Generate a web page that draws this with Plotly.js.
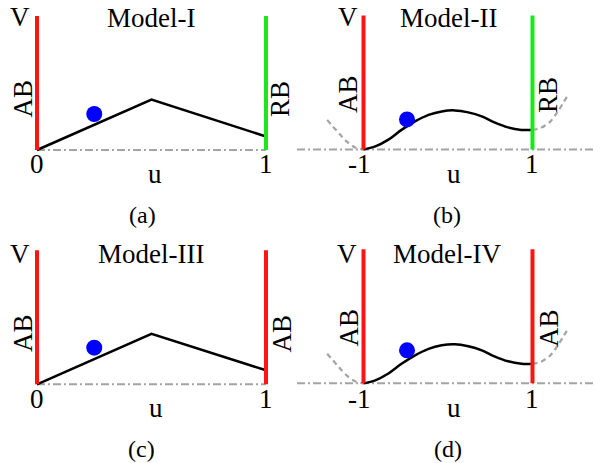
<!DOCTYPE html>
<html>
<head>
<meta charset="utf-8">
<script src="https://cdn.plot.ly/plotly-3.0.1.min.js"></script>
<style>html,body{margin:0;padding:0;background:#fff;}#chart{width:594px;height:463px;}</style>
</head>
<body>
<div id="chart"></div>
<script>
// ---------- data ----------
// Models I & III: piecewise-linear potential on [0,1]
const uLin = [0, 0.5, 1];
const vLinA = [0, 0.505, 0.135];
const vLinC = [0, 0.505, 0.14];
// Models II & IV: smooth potential on [-1,1]
const uSmooth = [-1, -0.86, -0.71, -0.55, -0.39, -0.23, -0.075, 0.08, 0.24, 0.40, 0.55, 0.71, 0.87, 1.0];
const vSmooth = [0, 0.03, 0.095, 0.195, 0.28, 0.345, 0.38, 0.39, 0.37, 0.33, 0.27, 0.22, 0.195, 0.195];
// grey dashed continuations beyond the walls (Models II & IV)
const uDashL = [-1.43, -1.31, -1.20, -1.10, -1.0];
const vDashL = [0.295, 0.18, 0.08, 0.02, 0];
const uDashR = [1.0, 1.09, 1.21, 1.30, 1.42];
const vDashR = [0.195, 0.212, 0.278, 0.38, 0.545];
// wall positions and height
const wallsLin = [0, 1];
const wallsSmooth = [-1, 1];
const wallTop = 1.34;
// particle (blue dot) positions
const dotU = [0.25, -0.485, 0.25, -0.485];
const dotV = [0.36, 0.30, 0.366, 0.33];
// labels
const titles = ['Model-I', 'Model-II', 'Model-III', 'Model-IV'];
const captions = ['(a)', '(b)', '(c)', '(d)'];
const leftWallLabels = ['AB', 'AB', 'AB', 'AB'];
const rightWallLabels = ['RB', 'RB', 'AB', 'AB'];
const tickLin = ['0', '1'];
const tickSmooth = ['-1', '1'];

// ---------- style ----------
const RED = '#ff1414', GREEN = '#1ee61e', GREY = '#a4a4a4', BLUE = '#0000ff';
const W = 594, H = 463;
const FONT = '"Liberation Serif", "Times New Roman", serif';
const px = x => x / W, py = y => 1 - y / H;

const panels = [
  {xa:'x',  ya:'y',  u:uLin,    v:vLinA,    walls:wallsLin,    wallCols:[RED, GREEN], ticks:tickLin,    smooth:false},
  {xa:'x2', ya:'y2', u:uSmooth, v:vSmooth,  walls:wallsSmooth, wallCols:[RED, GREEN], ticks:tickSmooth, smooth:true},
  {xa:'x3', ya:'y3', u:uLin,    v:vLinC,    walls:wallsLin,    wallCols:[RED, RED],   ticks:tickLin,    smooth:false},
  {xa:'x4', ya:'y4', u:uSmooth, v:vSmooth,  walls:wallsSmooth, wallCols:[RED, RED],   ticks:tickSmooth, smooth:true}
];
// text positions (pixels) per panel
const pos = [
  {V:[20,17.5],  T:[151,17.8],   L:[22.5,99],   R:[280,99],    tickY:163.8, tickShift:[0,0],  U:[155,174],   C:[142,215]},
  {V:[347.5,17.5],T:[448.7,17.8],L:[348,94],    R:[548,95],    tickY:163.8, tickShift:[-4,0], U:[453.7,174], C:[447,215]},
  {V:[20,254],   T:[151,254.5],  L:[22.5,333.5],R:[281,333.5], tickY:399,   tickShift:[0,0],  U:[155.8,408], C:[141,449]},
  {V:[347,254],  T:[447,254.5],  L:[348,327.5], R:[549,328],   tickY:399,   tickShift:[-4,0], U:[453.7,408], C:[448,449]}
];

const traces = [];
const shapes = [];
const annotations = [];
const txt = (text, x, y, size, extra) => Object.assign({
  text: text, x: px(x), y: py(y), xref: 'paper', yref: 'paper',
  xanchor: 'center', yanchor: 'middle', showarrow: false,
  font: {family: FONT, size: size, color: '#000'}
}, extra || {});

panels.forEach((p, i) => {
  const axes = {xaxis: p.xa, yaxis: p.ya};
  const dom = p.xa + ' domain';
  // baseline
  if (p.smooth) {
    shapes.push({type:'line', xref: dom, yref: p.ya, x0:0, x1:1, y0:0, y1:0,
      line:{color:GREY, width:2, dash:'8px,3px,2px,3px'}, layer:'below'});
    traces.push(Object.assign({x:uDashL, y:vDashL, mode:'lines', line:{color:GREY, width:2.2, dash:'5px,4px', shape:'spline'}, hoverinfo:'skip'}, axes));
    traces.push(Object.assign({x:uDashR, y:vDashR, mode:'lines', line:{color:GREY, width:2.2, dash:'5px,4px', shape:'spline'}, hoverinfo:'skip'}, axes));
  } else {
    traces.push(Object.assign({x:[p.walls[0], p.walls[1]], y:[0,0], mode:'lines',
      line:{color:GREY, width:2, dash:'8px,3px,2px,3px'}, hoverinfo:'skip'}, axes));
  }
  // potential curve
  traces.push(Object.assign({x:p.u, y:p.v, mode:'lines',
    line:{color:'#000', width:2.5, shape: p.smooth ? 'spline' : 'linear'}, hoverinfo:'skip'}, axes));
  // walls
  p.walls.forEach((w, k) => {
    traces.push(Object.assign({x:[w, w], y:[0, wallTop], mode:'lines',
      line:{color:p.wallCols[k], width:4}, hoverinfo:'skip'}, axes));
  });
  // particle
  traces.push(Object.assign({x:[dotU[i]], y:[dotV[i]], mode:'markers',
    marker:{color:BLUE, size:16, line:{width:0}}, hoverinfo:'skip'}, axes));

  // texts
  const q = pos[i];
  annotations.push(txt('V', q.V[0], q.V[1], 27));
  annotations.push(txt(titles[i], q.T[0], q.T[1], 27));
  annotations.push(txt(leftWallLabels[i], q.L[0], q.L[1], 27, {textangle:-90}));
  annotations.push(txt(rightWallLabels[i], q.R[0], q.R[1], 27, {textangle:-90}));
  annotations.push(txt('u', q.U[0], q.U[1], 27));
  annotations.push(txt(captions[i], q.C[0], q.C[1], 24));
  p.ticks.forEach((t, k) => {
    annotations.push({text:t, x:p.walls[k], xref:p.xa, y:py(q.tickY), yref:'paper',
      xanchor:'center', yanchor:'middle', xshift:q.tickShift[k], showarrow:false,
      font:{family:FONT, size:27, color:'#000'}});
  });
});

const hidden = {visible:false, fixedrange:true, showgrid:false, zeroline:false};
const layout = {
  width: W, height: H,
  margin: {l:0, r:0, t:0, b:0},
  paper_bgcolor:'#fff', plot_bgcolor:'rgba(0,0,0,0)',
  showlegend:false,
  xaxis:  Object.assign({domain:[0,0.5], range:[-0.1616, 1.1354], anchor:'y'}, hidden),
  yaxis:  Object.assign({domain:[0.5,1], range:[-0.815, 1.5],    anchor:'x'}, hidden),
  xaxis2: Object.assign({domain:[0.5,1], range:[-1.787, 1.728],  anchor:'y2'}, hidden),
  yaxis2: Object.assign({domain:[0.5,1], range:[-0.821, 1.494],  anchor:'x2'}, hidden),
  xaxis3: Object.assign({domain:[0,0.5], range:[-0.1616, 1.1354], anchor:'y3'}, hidden),
  yaxis3: Object.assign({domain:[0,0.5], range:[-0.787, 1.528],  anchor:'x3'}, hidden),
  xaxis4: Object.assign({domain:[0.5,1], range:[-1.787, 1.728],  anchor:'y4'}, hidden),
  yaxis4: Object.assign({domain:[0,0.5], range:[-0.797, 1.518],  anchor:'x4'}, hidden),
  shapes: shapes,
  annotations: annotations
};
Plotly.newPlot('chart', traces, layout, {staticPlot:true, displayModeBar:false});
</script>
</body>
</html>
